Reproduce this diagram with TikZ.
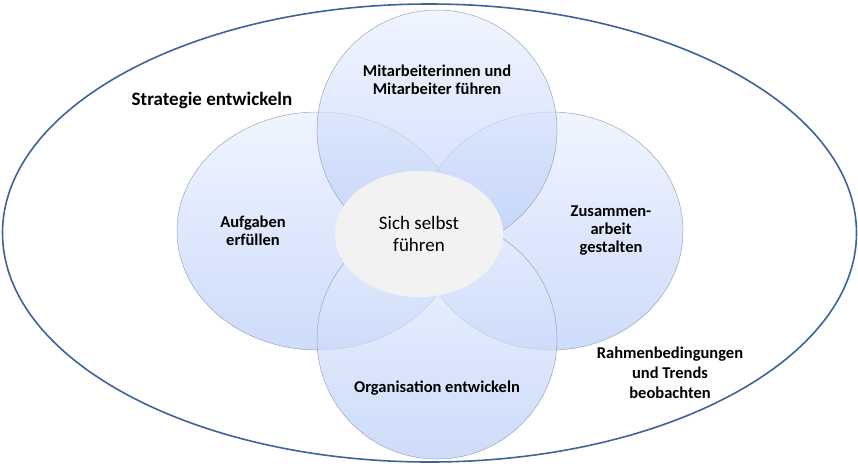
\documentclass[tikz,border=0pt]{standalone}
\usepackage{fontspec}
\setmainfont{Carlito}
\usetikzlibrary{shapes.geometric}
\definecolor{rimblue}{RGB}{61,100,150}
\definecolor{petaltop}{RGB}{233,240,254}
\definecolor{petalbot}{RGB}{184,205,249}
\definecolor{petalline}{RGB}{155,165,186}
\definecolor{coregray}{RGB}{242,242,242}
\tikzset{
  petal/.style={top color=petaltop, bottom color=petalbot, fill opacity=0.7, draw=petalline, line width=0.5pt},
  lbl/.style={font=\bfseries\fontsize{16.5}{18}\selectfont, align=center, text=black, inner sep=0pt},
  core/.style={ellipse, fill=coregray, minimum width=168pt, minimum height=126pt, inner sep=0pt,
    align=center, font=\fontsize{19}{22}\selectfont}
}
\begin{document}
\begin{tikzpicture}[x=1pt, y=-1pt]
  \useasboundingbox (0,0) rectangle (858,466);
  \draw[rimblue, line width=1.6pt] (429.5,233) ellipse [x radius=427, y radius=229]; % outer ring
  % four overlapping petals: left, right, top, bottom
  \foreach \cx/\cy/\rx/\ry in {318/231/141/119, 551/231/132/119, 437/130/120/120, 437/339/120/120}
    \path[petal] (\cx,\cy) ellipse [x radius=\rx, y radius=\ry];
  \node[core] (self) at (419,234) {Sich selbst\\führen};
  \node[lbl] (team) at (437,80) {Mitarbeiterinnen und\\Mitarbeiter führen};
  \node[lbl] (tasks) at (253,231) {Aufgaben\\erfüllen};
  \node[lbl] (coop) at (611,231) {Zusammen-\\arbeit\\gestalten};
  \node[lbl] (org) at (437,388) {Organisation entwickeln};
  \node[lbl, font=\bfseries\fontsize{19}{20}\selectfont] (strat) at (212,100) {Strategie entwickeln};
  \node[lbl, font=\bfseries\fontsize{16.5}{20}\selectfont] (frame) at (670,373) {Rahmenbedingungen\\und Trends\\beobachten};
\end{tikzpicture}
\end{document}
